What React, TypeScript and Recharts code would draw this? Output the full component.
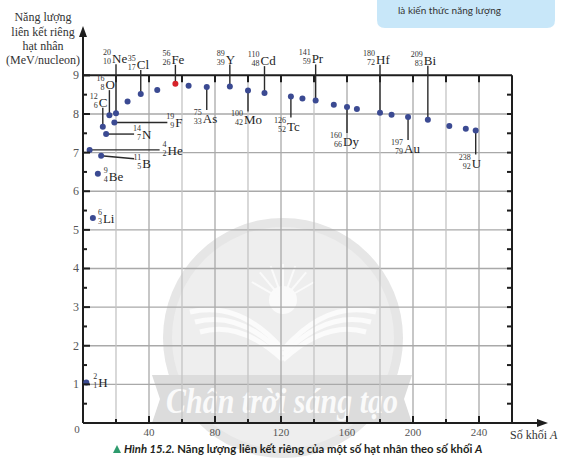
import { ScatterChart, Scatter, XAxis, YAxis, ReferenceLine, ReferenceDot } from 'recharts'

// labelled nuclides
const SYMBOLS = ['H', 'Li', 'Be', 'He', 'B', 'C', 'N', 'O', 'F', 'Ne', 'Cl', 'Fe', 'As', 'Y', 'Mo', 'Cd', 'Tc', 'Pr', 'Dy', 'Hf', 'Au', 'Bi', 'U']
const MASS_NUMBERS = [2, 6, 9, 4, 11, 12, 14, 16, 19, 20, 35, 56, 75, 89, 100, 110, 126, 141, 160, 180, 197, 209, 238]
const ATOMIC_NUMBERS = [1, 3, 4, 2, 5, 6, 7, 8, 9, 10, 17, 26, 33, 39, 42, 48, 52, 59, 66, 72, 79, 83, 92]
const BINDING_ENERGY = [1.05, 5.31, 6.45, 7.07, 6.92, 7.67, 7.48, 7.97, 7.78, 8.02, 8.52, 8.78, 8.70, 8.71, 8.61, 8.54, 8.45, 8.35, 8.18, 8.03, 7.92, 7.85, 7.57]

// unlabelled points
const OTHER_MASS = [27, 45, 64, 133, 152, 166, 187, 222, 232]
const OTHER_ENERGY = [8.32, 8.62, 8.73, 8.40, 8.24, 8.13, 7.98, 7.69, 7.62]

const X_TICKS = [0, 20, 40, 60, 80, 100, 120, 140, 160, 180, 200, 220, 240]
const X_LABELS = [0, 40, 80, 120, 160, 200, 240]
const Y_TICKS = [0, 0.5, 1, 1.5, 2, 2.5, 3, 3.5, 4, 4.5, 5, 5.5, 6, 6.5, 7, 7.5, 8, 8.5, 9]
const GRID_X = [20, 40, 60, 80, 100, 120, 140, 160, 180, 200, 220, 240]
const GRID_Y = [1, 2, 3, 4, 5, 6, 7, 8]
const FRAME_Y_TICKS = [0.5, 1, 1.5, 2, 2.5, 3, 3.5, 4, 4.5, 5, 5.5, 6, 6.5, 7, 7.5, 8, 8.5]

const X_MAX = 280
const Y_MAX = 10.2
const FRAME_X = 260
const FRAME_Y = 9

const labelled = SYMBOLS.map((sym, i) => ({
  sym, mass: MASS_NUMBERS[i], z: ATOMIC_NUMBERS[i], A: MASS_NUMBERS[i], E: BINDING_ENERGY[i],
}))
const others = OTHER_MASS.map((A, i) => ({ A, E: OTHER_ENERGY[i] }))

// how each label hangs off its dot (pixels)
const LABEL_LAYOUT: Record<string, { dir: string; len: number; dy?: number }> = {
  H: { dir: 'none', len: 12, dy: 5 },
  Li: { dir: 'none', len: 10, dy: 5 },
  Be: { dir: 'none', len: 11, dy: 7 },
  He: { dir: 'right', len: 70 },
  B: { dir: 'slant', len: 33, dy: 3 },
  C: { dir: 'up', len: 19 },
  N: { dir: 'right', len: 28 },
  O: { dir: 'up', len: 25 },
  F: { dir: 'right', len: 53 },
  Ne: { dir: 'up', len: 49 },
  Cl: { dir: 'up', len: 24 },
  Fe: { dir: 'up', len: 19 },
  As: { dir: 'down', len: 23 },
  Y: { dir: 'up', len: 22 },
  Mo: { dir: 'down', len: 21 },
  Cd: { dir: 'up', len: 27 },
  Tc: { dir: 'down', len: 21 },
  Pr: { dir: 'up', len: 36 },
  Dy: { dir: 'down', len: 26 },
  Hf: { dir: 'up', len: 48 },
  Au: { dir: 'down', len: 23 },
  Bi: { dir: 'up', len: 54 },
  U: { dir: 'down', len: 24 },
}

const BLUE = '#3b4a92'
const RED = '#d6232a'
const INK = '#1e1e1e'
const SERIF = '"Liberation Serif", "DejaVu Serif", serif'

function NuclideDot(props: any) {
  const { cx, cy, payload } = props
  if (cx == null || cy == null) return null
  const lay = LABEL_LAYOUT[payload.sym]
  let ex = cx
  let ey = cy
  let sx = 0
  let by = 0
  let line = true
  switch (lay.dir) {
    case 'up':
      ey = cy - lay.len; sx = cx - 4; by = ey - 1; break
    case 'down':
      ey = cy + lay.len; sx = cx - 4; by = ey + 13; break
    case 'right':
      ex = cx + lay.len; sx = ex + 8; by = cy + 5; break
    case 'slant':
      ex = cx + lay.len; ey = cy + (lay.dy || 0); sx = ex + 8; by = ey + 9; break
    default:
      line = false; sx = cx + lay.len; by = cy + (lay.dy || 0)
  }
  return (
    <g>
      {line && <line x1={cx} y1={cy} x2={ex} y2={ey} stroke="#2a2a2a" strokeWidth={1.4} />}
      <circle cx={cx} cy={cy} r={3} fill={payload.sym === 'Fe' ? RED : BLUE} />
      <text x={sx - 1} y={by - 8} textAnchor="end" fontFamily={SERIF} fontSize={8} fill="#333">{payload.mass}</text>
      <text x={sx - 1} y={by + 1} textAnchor="end" fontFamily={SERIF} fontSize={8} fill="#333">{payload.z}</text>
      <text x={sx} y={by} fontFamily={SERIF} fontSize={13} fill={INK}>{payload.sym}</text>
    </g>
  )
}

function PlainDot(props: any) {
  const { cx, cy } = props
  if (cx == null || cy == null) return null
  return <circle cx={cx} cy={cy} r={3} fill={BLUE} />
}

function XTick(props: any) {
  const { x, y, payload } = props
  const v = payload.value
  const major = v % 40 === 0
  return (
    <g>
      {v > 0 && <line x1={x} x2={x} y1={y} y2={y - (major ? 7 : 4)} stroke={INK} strokeWidth={2} />}
      {X_LABELS.includes(v) && (
        <text x={v === 0 ? x - 6 : x} y={v === 0 ? y + 10 : y + 13} textAnchor="middle"
          fontFamily={SERIF} fontSize={11} fill="#555">{v}</text>
      )}
    </g>
  )
}

function YTick(props: any) {
  const { x, y, payload } = props
  const v = payload.value
  const major = Number.isInteger(v)
  if (v <= 0) return <g />
  return (
    <g>
      <line x1={x} x2={x + (major ? 7 : 4)} y1={y} y2={y} stroke={INK} strokeWidth={2} />
      {major && (
        <text x={x - 4} y={y + 4} textAnchor="end" fontFamily={SERIF} fontSize={12} fill="#555">{v}</text>
      )}
    </g>
  )
}

const downTick = (p: any) => (
  <line x1={p.cx} x2={p.cx} y1={p.cy} y2={p.cy + 7} stroke={INK} strokeWidth={2} />
)
const leftTick = (p: any) => (
  <line x1={p.cx} x2={p.cx - 5} y1={p.cy} y2={p.cy} stroke={INK} strokeWidth={2} />
)
const arrowRight = (p: any) => (
  <path d={`M${p.cx + 3},${p.cy} L${p.cx - 8},${p.cy - 4} L${p.cx - 8},${p.cy + 4} Z`} fill={INK} />
)
const arrowUp = (p: any) => (
  <path d={`M${p.cx},${p.cy - 3} L${p.cx - 4},${p.cy + 8} L${p.cx + 4},${p.cy + 8} Z`} fill={INK} />
)

function Watermark() {
  return (
    <svg width={584} height={467} style={{ position: 'absolute', left: 0, top: 0 }}>
      <circle cx={283} cy={338} r={120} fill="#e6e6e6" />
      <circle cx={283} cy={338} r={111} fill="#eeeeee" />
      <circle cx={283} cy={300} r={14} fill="#fafafa" />
      {[-60, -40, -20, 0, 20, 40, 60].map((a) => (
        <line key={a} x1={283} y1={300}
          x2={283 + 36 * Math.sin((a * Math.PI) / 180)} y2={300 - 36 * Math.cos((a * Math.PI) / 180)}
          stroke="#fafafa" strokeWidth={2} />
      ))}
      {[0, 10, 20].map((o) => (
        <g key={o} fill="none" stroke="#fbfbfb" strokeWidth={5}>
          <path d={`M${190 + o / 2},${312 + o} Q240,${300 + o} 283,${350 + o / 2}`} />
          <path d={`M${376 - o / 2},${312 + o} Q326,${300 + o} 283,${350 + o / 2}`} />
        </g>
      ))}
      <polygon points="152,375 412,375 404,399 412,423 152,423 160,399" fill="#dcdcdc" />
      <text x={282} y={413} textAnchor="middle" fontFamily={SERIF} fontStyle="italic" fontWeight="bold"
        fontSize={36} fill="#fafafa" textLength={232} lengthAdjust="spacingAndGlyphs">Chân trời sáng tạo</text>
    </svg>
  )
}

function Annotations() {
  return (
    <svg width={584} height={467} style={{ position: 'absolute', left: 0, top: 0, pointerEvents: 'none' }}>
      <path d="M377,-10 H555 V20 Q555,28 547,28 H385 Q377,28 377,20 Z" fill="#c8e7f9" />
      <text x={398} y={14} fontFamily="Lato, sans-serif" fontSize={10} fill="#333">là kiến thức năng lượng</text>
      <g fontFamily={SERIF} fontSize={12} fill="#333" textAnchor="middle">
        <text x={43} y={21}>Năng lượng</text>
        <text x={43} y={36}>liên kết riêng</text>
        <text x={43} y={50}>hạt nhân</text>
        <text x={43} y={64}>(MeV/nucleon)</text>
      </g>
      <text x={510} y={439} fontFamily={SERIF} fontSize={12} fill="#333">
        Số khối <tspan fontStyle="italic">A</tspan>
      </text>
      <path d="M113,453 L117,445 L121,453 Z" fill="#2e9b6d" />
      <text x={124} y={453} fontFamily="Lato, sans-serif" fontSize={11.3} fontWeight="bold" fill="#231f20">
        <tspan fontStyle="italic">Hình 15.2.</tspan> Năng lượng liên kết riêng của một số hạt nhân theo số khối <tspan fontStyle="italic">A</tspan>
      </text>
    </svg>
  )
}

export default function App() {
  return (
    <div style={{ position: 'absolute', left: 0, top: 0, width: 584, height: 467, background: '#fff' }}>
      <Watermark />
      <Annotations />
      <div style={{ position: 'absolute', left: 0, top: 0 }}>
        <ScatterChart width={584} height={467} margin={{ top: 29, right: 39, bottom: 14, left: 23 }}>
          <XAxis type="number" dataKey="A" domain={[0, X_MAX]} ticks={X_TICKS} interval={0}
            height={30} tickSize={0} tickMargin={0} tickLine={false}
            axisLine={{ stroke: INK, strokeWidth: 2 }} tick={(p: any) => <XTick {...p} />} />
          <YAxis type="number" dataKey="E" domain={[0, Y_MAX]} ticks={Y_TICKS} interval={0}
            width={60} tickSize={0} tickMargin={0} tickLine={false}
            axisLine={{ stroke: INK, strokeWidth: 2 }} tick={(p: any) => <YTick {...p} />} />

          {GRID_Y.map((v) => (
            <ReferenceLine key={`gy${v}`} segment={[{ x: 0, y: v }, { x: FRAME_X, y: v }]}
              stroke="#a9a9a9" strokeWidth={1.3} />
          ))}
          {GRID_X.map((v) => (
            <ReferenceLine key={`gx${v}`} segment={[{ x: v, y: 0 }, { x: v, y: FRAME_Y }]}
              stroke={v % 40 === 0 ? '#a9a9a9' : '#c4c4c4'} strokeWidth={1.3} />
          ))}
          <ReferenceLine segment={[{ x: 0, y: FRAME_Y }, { x: FRAME_X, y: FRAME_Y }]} stroke={INK} strokeWidth={2} />
          <ReferenceLine segment={[{ x: FRAME_X, y: 0 }, { x: FRAME_X, y: FRAME_Y }]} stroke={INK} strokeWidth={2} />
          {GRID_X.map((v) => (
            <ReferenceDot key={`tx${v}`} x={v} y={FRAME_Y} r={1} shape={downTick} />
          ))}
          {FRAME_Y_TICKS.map((v) => (
            <ReferenceDot key={`ty${v}`} x={FRAME_X} y={v} r={1} shape={leftTick} />
          ))}
          <ReferenceDot x={X_MAX} y={0} r={1} shape={arrowRight} ifOverflow="visible" />
          <ReferenceDot x={0} y={Y_MAX} r={1} shape={arrowUp} ifOverflow="visible" />

          <Scatter data={others} shape={PlainDot} isAnimationActive={false} />
          <Scatter data={labelled} shape={NuclideDot} isAnimationActive={false} />
        </ScatterChart>
      </div>
    </div>
  )
}
